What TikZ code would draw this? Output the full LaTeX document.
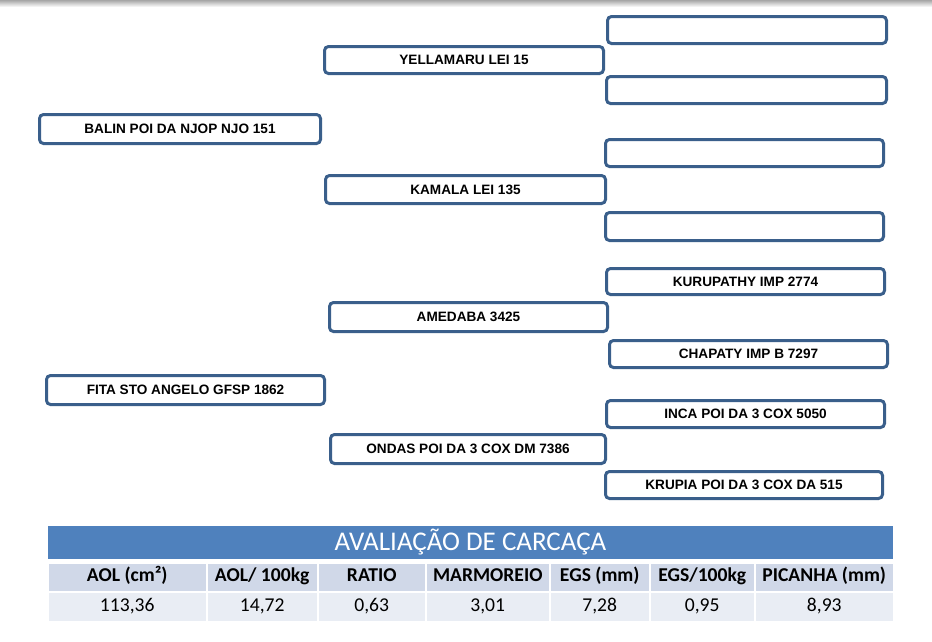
\documentclass[tikz,border=0pt]{standalone}
\usepackage{fontspec}
\setmainfont{Liberation Sans}
\newfontfamily\calib{Carlito}
\definecolor{bordc}{HTML}{3A5F8B}
\definecolor{headc}{HTML}{4F81BD}
\definecolor{rowa}{HTML}{D0D8E8}
\definecolor{rowb}{HTML}{E9EDF4}
\tikzset{
  pbox/.style={draw=bordc, line width=3pt, rounded corners=4pt, fill=white, inner sep=0pt,
    font=\fontsize{13.6}{15}\selectfont\bfseries, text=black},
  tcell/.style={draw=white, line width=1.5pt, inner sep=0pt, anchor=north west, text height=13pt, text depth=4pt,
    font=\calib\fontsize{19.6}{21}\selectfont, text=black},
}
\begin{document}
\begin{tikzpicture}[x=1pt,y=-1pt]
\useasboundingbox (0,0) rectangle (932,641);
\fill[top color=gray!70, bottom color=white] (0,0) rectangle (932,7);
% boxes
\node[pbox, minimum width=279pt, minimum height=27pt] (e1) at (747,30) {};
\node[pbox, minimum width=279pt, minimum height=27pt] (yel) at (464,60) {YELLAMARU LEI 15};
\node[pbox, minimum width=280pt, minimum height=27pt] (e2) at (746.5,90) {};
\node[pbox, minimum width=281pt, minimum height=29pt] (balin) at (180,129) {BALIN POI DA NJOP NJO 151};
\node[pbox, minimum width=278pt, minimum height=27pt] (e3) at (744.5,153) {};
\node[pbox, minimum width=280pt, minimum height=28pt] (kam) at (465.5,189.5) {KAMALA LEI 135};
\node[pbox, minimum width=278pt, minimum height=28pt] (e4) at (744.5,226.5) {};
\node[pbox, minimum width=278pt, minimum height=26pt] (kuru) at (745.5,281.5) {KURUPATHY IMP 2774};
\node[pbox, minimum width=278pt, minimum height=29pt] (amed) at (468.5,317) {AMEDABA 3425};
\node[pbox, minimum width=278pt, minimum height=27pt] (chap) at (748.5,354) {CHAPATY IMP B 7297};
\node[pbox, minimum width=278pt, minimum height=29pt] (fita) at (185.5,390) {FITA STO ANGELO GFSP 1862};
\node[pbox, minimum width=278pt, minimum height=27pt] (inca) at (745.5,414) {INCA POI DA 3 COX 5050};
\node[pbox, minimum width=275pt, minimum height=29pt] (ondas) at (468,449) {ONDAS POI DA 3 COX DM 7386};
\node[pbox, minimum width=277pt, minimum height=27pt] (krup) at (744,485) {KRUPIA POI DA 3 COX DA 515};
% table
\node[fill=headc, draw=white, line width=1pt, anchor=north west, minimum width=846pt, minimum height=34pt, inner sep=0pt,
  font=\calib\fontsize{27}{29}\selectfont, text=white] (title) at (47,525) {\raisebox{-1pt}{AVALIAÇÃO DE CARCAÇA}};
\foreach \xa/\xb/\h/\v [count=\i] in {47/206/{AOL (cm²)}/{113,36}, 206/317/{AOL/ 100kg}/{14,72}, 317/425/{RATIO}/{0,63},
  425/549/{MARMOREIO}/{3,01}, 549/649/{EGS (mm)}/{7,28}, 649/754/{EGS/100kg}/{0,95}, 754/893/{PICANHA (mm)}/{8,93}}{
  \pgfmathsetmacro\w{\xb-\xa}
  \node[tcell, fill=rowa, minimum width=\w pt, minimum height=29pt] (h\i) at (\xa,562) {\bfseries\h};
  \node[tcell, fill=rowb, minimum width=\w pt, minimum height=30pt] (v\i) at (\xa,591) {\v};
}
\end{tikzpicture}
\end{document}
